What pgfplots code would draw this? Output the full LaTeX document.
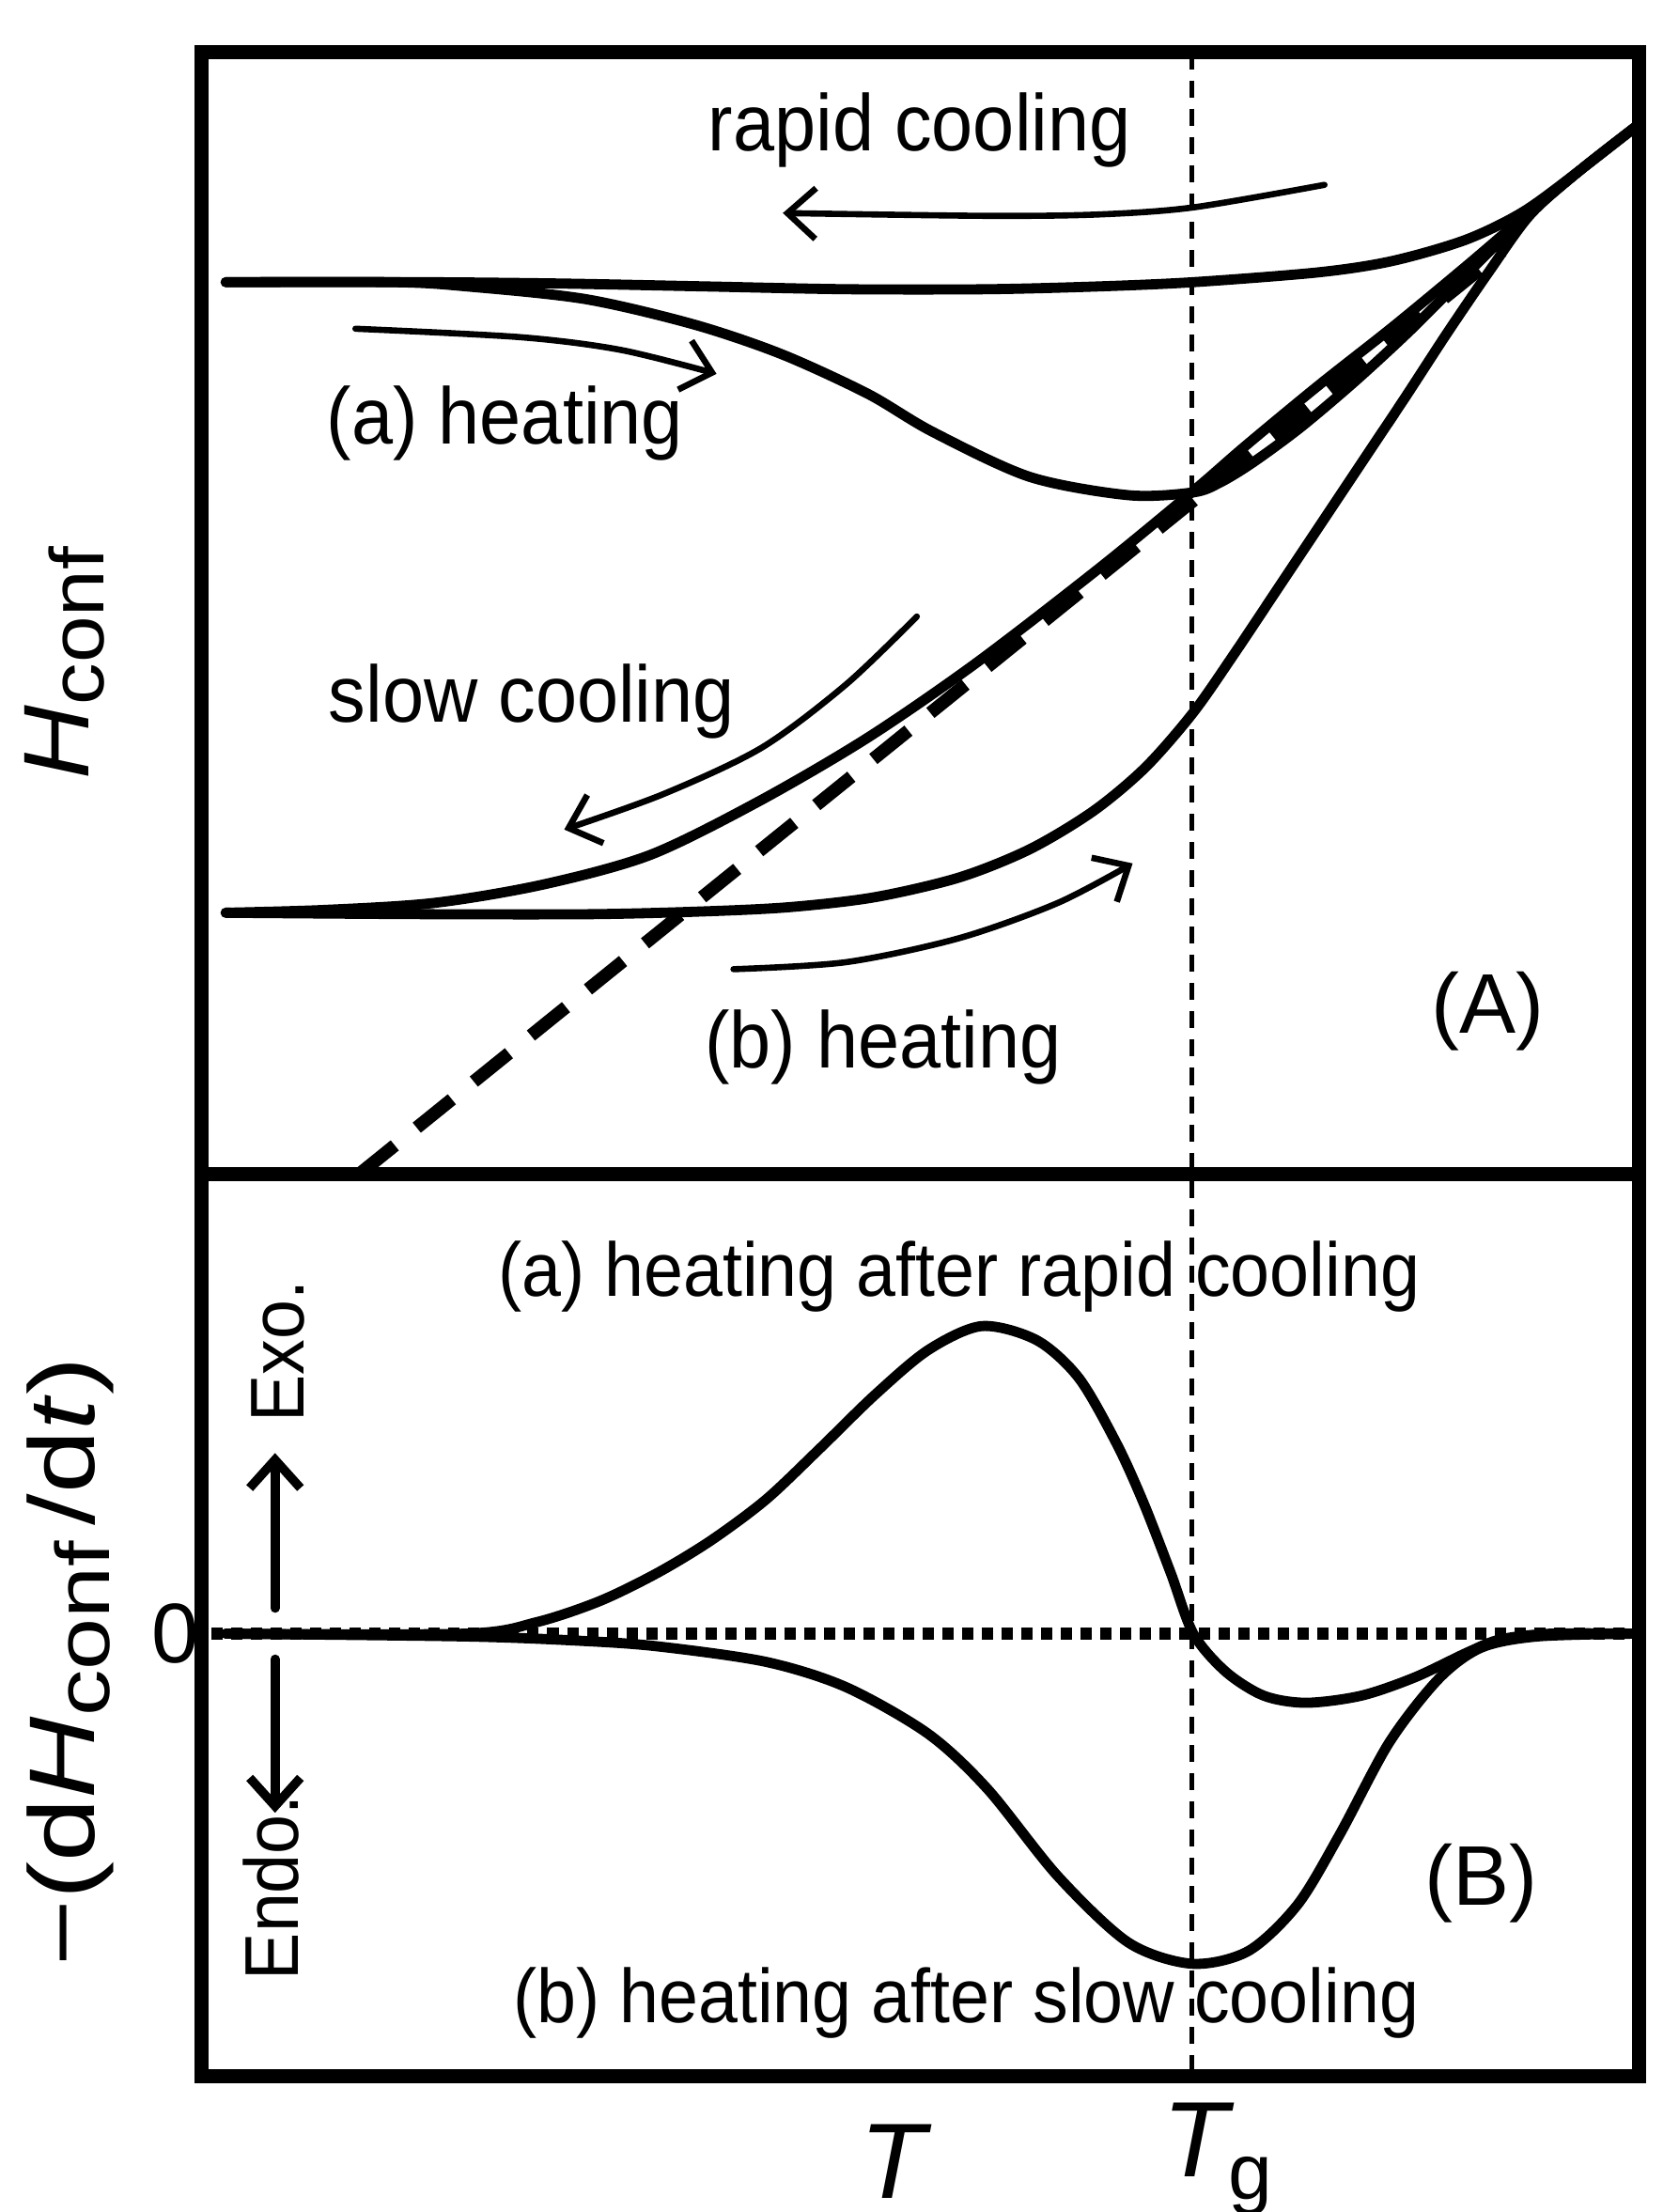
\documentclass[border=0pt]{standalone}
\usepackage{fontspec}
\setmainfont{Liberation Sans}[FakeStretch=0.93]
\newfontfamily\bigf{Liberation Sans}
\newfontfamily\widef{Liberation Sans}[FakeStretch=1.22]
\newfontfamily\midf{Liberation Sans}[FakeStretch=1.1]
\usepackage{pgfplots}
\pgfplotsset{compat=1.18}
\usetikzlibrary{arrows.meta}
\begin{document}
\begin{tikzpicture}
\useasboundingbox (-35.75pt,-24pt) rectangle (261.75pt,368pt);
\begin{axis}[
  at={(0,0)}, anchor=south west,
  scale only axis, width=254.75pt, height=358.75pt,
  xmin=143, xmax=1162, ymin=37, ymax=1472, y dir=reverse,
  axis line style={line width=2.5pt},
  xtick=\empty, ytick={1158}, yticklabels={\bigf 0},
  major tick length=0pt,
  yticklabel style={font=\fontsize{15}{15}\selectfont, xshift=3pt},
  clip=false,
  every axis plot/.append style={black, no marks, line width=1.8pt, line cap=round, line join=round},
]
% divider between panels
\draw[line width=2.5pt] (axis cs:143,832) -- (axis cs:1162,832);
% Tg line
\addplot[line width=0.8pt, dash pattern=on 3pt off 2pt, line cap=butt] coordinates {(845,37) (845,1472)};
% equilibrium dashed
\addplot[line width=2.3pt, dash pattern=on 8pt off 5pt, line cap=butt] coordinates {(255,832) (1065,178)};
% liquid + rapid cooling
\addplot[smooth, tension=0.5] coordinates {(1162,88) (1121,120) (1080,150) (1039,170) (987,185) (935,193) (846,200) (779,203) (700,205) (600,205) (500,203) (400,201) (300,200) (160,200)};
% (a) heating
\addplot[smooth, tension=0.5] coordinates {(160,200) (280,200) (331,203) (415,212) (492,230) (554,251) (615,279) (661,306) (730,338) (800,351) (846,349) (865,342) (888,328) (922,303) (961,270) (1000,234) (1039,195) (1080,155) (1121,120) (1162,88)};
% slow cooling
\addplot[smooth, tension=0.5] coordinates {(1162,88) (1121,120) (1080,154) (1039,189) (987,232) (935,273) (883,316) (846,348) (779,403) (692,470) (615,523) (538,568) (461,606) (385,627) (308,640) (230,645) (160,647)};
% (b) heating
\addplot[smooth, tension=0.5] coordinates {(160,647) (300,648) (420,648) (500,646) (560,643) (620,636) (680,622) (730,602) (775,575) (812,544) (846,505) (876,462) (906,417) (936,372) (966,327) (996,282) (1026,236) (1056,192) (1085,152) (1121,120) (1162,88)};
% thin arrows
\addplot[smooth, line width=1.1pt, -{Straight Barb[length=5pt,width=9pt]}] coordinates {(939,131) (846,147) (779,152) (700,153) (555,151)};
\addplot[smooth, line width=1.1pt, -{Straight Barb[length=5pt,width=9pt]}] coordinates {(252,233) (369,239) (440,248) (508,265)};
\addplot[smooth, line width=1.1pt, -{Straight Barb[length=5pt,width=9pt]}] coordinates {(650,437) (600,485) (540,530) (470,563) (400,588)};
\addplot[smooth, line width=1.1pt, -{Straight Barb[length=5pt,width=9pt]}] coordinates {(520,687) (600,682) (680,665) (750,640) (803,612)};
% bottom panel
\addplot[line width=2.3pt, dash pattern=on 2pt off 1.5pt, line cap=butt] coordinates {(150,1158) (1165,1158)};
\addplot[smooth, tension=0.5] coordinates {(160,1158) (330,1158) (380,1150) (425,1135) (466,1115) (504,1092) (543,1063) (581,1027) (620,989) (658,957) (696,940) (735,950) (765,977) (792,1024) (811,1066) (830,1115) (846,1158) (869,1185) (896,1202) (926,1207) (965,1202) (1003,1189) (1041,1171) (1064,1162) (1100,1158) (1160,1158)};
\addplot[smooth, tension=0.5] coordinates {(160,1158) (330,1160) (410,1163) (466,1167) (543,1178) (600,1196) (658,1229) (700,1268) (750,1330) (800,1377) (845,1392) (885,1383) (920,1350) (950,1300) (985,1235) (1020,1190) (1050,1168) (1090,1160) (1160,1158)};
% Exo / Endo arrows
\addplot[line width=1.6pt, -{Straight Barb[length=5pt,width=9pt]}] coordinates {(195,1140) (195,1030)};
\addplot[line width=1.6pt, -{Straight Barb[length=5pt,width=9pt]}] coordinates {(195,1176) (195,1285)};
% texts
\def\ts{\fontsize{13.5}{13.5}\selectfont}
\def\tt{\fontsize{14.2}{14.2}\selectfont}
\node[font=\tt] at (axis cs:652,92) {rapid cooling};
\node[font=\tt] at (axis cs:358,300) {(a) heating};
\node[font=\tt] at (axis cs:377,497) {slow cooling};
\node[font=\tt] at (axis cs:626,742) {(b) heating};
\node[font=\bigf\fontsize{15}{15}\selectfont] at (axis cs:1055,717) {(A)};
\node[font=\ts] at (axis cs:680,905) {(a) heating after rapid cooling};
\node[font=\ts] at (axis cs:685,1420) {(b) heating after slow cooling};
\node[font=\bigf\fontsize{15}{15}\selectfont] at (axis cs:1050,1335) {(B)};
\node[font=\ts, rotate=90] at (axis cs:197,958) {Exo.};
\node[font=\ts, rotate=90] at (axis cs:192,1338) {Endo.};
\node[font=\midf\fontsize{16.5}{16.5}\selectfont, rotate=90] at (axis cs:46,470) {\textit{H}\raisebox{-0.3ex}{\fontsize{13.5}{13.5}\selectfont conf}};
\node[font=\widef\fontsize{16.5}{16.5}\selectfont, rotate=90] at (axis cs:50,1178) {\textminus(d\textit{H}\raisebox{-0.3ex}{\fontsize{13.5}{13.5}\selectfont conf}\,/d\textit{t})};
\node[font=\bigf\fontsize{19}{19}\selectfont] at (axis cs:635,1532) {\textit{T}};
\node[font=\bigf\fontsize{19}{19}\selectfont, anchor=base west] at (axis cs:810,1543) {\textit{T}\kern-1pt\raisebox{-0.4ex}{\fontsize{14}{14}\selectfont g}};
\end{axis}
\end{tikzpicture}
\end{document}
